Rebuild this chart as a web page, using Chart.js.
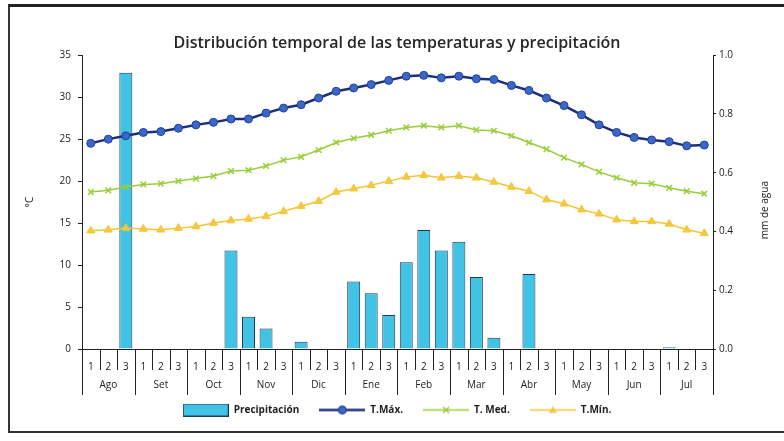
<!DOCTYPE html>
<html lang="es">
<head>
<meta charset="utf-8">
<title>Distribución temporal de las temperaturas y precipitación</title>
<script src="https://cdn.jsdelivr.net/npm/chart.js@4.4.1/dist/chart.umd.min.js"></script>
<style>
  html, body { margin: 0; padding: 0; background: #fff; }
  #wrap { position: relative; width: 784px; height: 441px; overflow: hidden; }
  #frame { position: absolute; left: 8px; top: 4px; width: 800px; height: 424px;
           border-top: 3px solid #222; border-left: 2px solid #333; border-bottom: 2px solid #333; }
  canvas { position: absolute; left: 0; top: 0; }
</style>
</head>
<body>
<div id="wrap">
  <div id="frame"></div>
  <canvas id="chart" width="784" height="441"></canvas>
</div>
<script>
"use strict";

// datos (decadas 1-2-3 de cada mes, Ago -> Jul)
const TITLE = "Distribución temporal de las temperaturas y precipitación";
const MONTHS = ["Ago", "Set", "Oct", "Nov", "Dic", "Ene", "Feb", "Mar", "Abr", "May", "Jun", "Jul"];
const DECADES = ["1", "2", "3"];

const PRECIP = [
  0, 0, 0.94,   0, 0, 0,   0, 0, 0.335,   0.11, 0.07, 0,
  0.025, 0, 0,  0.23, 0.19, 0.116,   0.295, 0.405, 0.335,   0.365, 0.245, 0.038,
  0, 0.255, 0,  0, 0, 0,   0, 0, 0,   0.006, 0, 0,
];
const T_MAX = [
  24.5, 25.0, 25.4, 25.8, 25.9, 26.3, 26.7, 27.0, 27.4, 27.4, 28.1, 28.7,
  29.1, 29.9, 30.7, 31.1, 31.5, 32.0, 32.5, 32.6, 32.3, 32.5, 32.2, 32.1,
  31.4, 30.8, 29.9, 29.0, 27.9, 26.7, 25.8, 25.2, 24.9, 24.7, 24.2, 24.3,
];
const T_MED = [
  18.7, 18.9, 19.3, 19.6, 19.7, 20.0, 20.3, 20.6, 21.2, 21.3, 21.8, 22.5,
  22.9, 23.7, 24.6, 25.1, 25.5, 26.0, 26.4, 26.6, 26.4, 26.6, 26.1, 26.0,
  25.4, 24.6, 23.8, 22.8, 22.0, 21.1, 20.4, 19.8, 19.7, 19.2, 18.8, 18.5,
];
const T_MIN = [
  14.1, 14.2, 14.4, 14.3, 14.2, 14.4, 14.6, 15.0, 15.3, 15.5, 15.8, 16.4,
  17.0, 17.6, 18.7, 19.1, 19.5, 20.0, 20.5, 20.7, 20.4, 20.6, 20.4, 19.9,
  19.3, 18.8, 17.8, 17.3, 16.6, 16.1, 15.4, 15.2, 15.2, 14.9, 14.2, 13.8,
];
const TEMP_TICKS = { min: 0, max: 35, step: 5 };
const RAIN_TICKS = { min: 0, max: 1, step: 0.2 };

const FONT = "Open Sans";
const INK = "#222";
const COLORS = {
  bar: "#41c3e6", barEdge: "#1f3a55",
  max: "#1c2f7c", maxPoint: "#3b67c9",
  med: "#9bcc3a",
  min: "#f3c536", minPoint: "#f5c842",
};

const labels = MONTHS.flatMap(() => DECADES);

// iconos de leyenda: línea + marcador, como en Excel
function legendIcon(kind) {
  const c = document.createElement("canvas");
  c.width = 46; c.height = 13;
  const g = c.getContext("2d");
  const cy = 6.5;
  if (kind === "bar") {
    g.fillStyle = COLORS.bar;
    g.fillRect(0.5, 0.5, 45, 12);
    g.strokeStyle = COLORS.barEdge;
    g.lineWidth = 1;
    g.strokeRect(0.5, 0.5, 45, 12);
    return c;
  }
  const col = kind === "max" ? COLORS.max : kind === "med" ? COLORS.med : COLORS.min;
  g.strokeStyle = col;
  g.lineWidth = kind === "max" ? 2.5 : 1.5;
  g.beginPath(); g.moveTo(0, cy); g.lineTo(46, cy); g.stroke();
  if (kind === "max") {
    g.fillStyle = COLORS.maxPoint;
    g.beginPath(); g.arc(23, cy, 4, 0, Math.PI * 2); g.fill();
    g.lineWidth = 1; g.strokeStyle = COLORS.max; g.stroke();
  } else if (kind === "med") {
    g.lineWidth = 1.5;
    g.beginPath();
    g.moveTo(20, cy - 3); g.lineTo(26, cy + 3);
    g.moveTo(26, cy - 3); g.lineTo(20, cy + 3);
    g.stroke();
  } else {
    g.fillStyle = COLORS.minPoint;
    g.beginPath(); g.moveTo(23, cy - 4); g.lineTo(27, cy + 3); g.lineTo(19, cy + 3); g.closePath(); g.fill();
  }
  return c;
}
const LEGEND_ICONS = [legendIcon("bar"), legendIcon("max"), legendIcon("med"), legendIcon("min")];

// eje de categorías en dos niveles (decada / mes) + título del eje derecho
const multiLevelAxis = {
  id: "multiLevelAxis",
  afterDraw(chart) {
    const xs = chart.scales.x;
    const ctx = chart.ctx;
    const n = chart.data.labels.length;
    const step = xs.getPixelForTick(1) - xs.getPixelForTick(0);
    ctx.save();
    ctx.strokeStyle = INK;
    ctx.lineWidth = 1;
    for (let i = 0; i <= n; i++) {
      const bx = Math.round(xs.getPixelForTick(0) - step / 2 + i * step) + 0.5;
      const len = i % DECADES.length === 0 ? 46 : 21;
      ctx.beginPath();
      ctx.moveTo(bx, xs.top);
      ctx.lineTo(bx, xs.top + len);
      ctx.stroke();
    }
    ctx.fillStyle = INK;
    ctx.font = `10px "${FONT}"`;
    ctx.textAlign = "center";
    ctx.textBaseline = "middle";
    MONTHS.forEach((m, k) => {
      ctx.fillText(m, xs.getPixelForTick(k * DECADES.length + 1), xs.top + 36);
    });

    const y2 = chart.scales.y2;
    ctx.translate(y2.right - 19, (chart.chartArea.top + chart.chartArea.bottom) / 2 + 8);
    ctx.rotate(-Math.PI / 2);
    ctx.fillText("mm de agua", 0, 0);
    ctx.restore();
  },
};

new Chart(document.getElementById("chart"), {
  data: {
    labels,
    datasets: [
      {
        type: "bar", label: "Precipitación", data: PRECIP, yAxisID: "y2", order: 1,
        backgroundColor: COLORS.bar, borderColor: COLORS.barEdge, borderWidth: 1,
        categoryPercentage: 1, barPercentage: 0.74,
      },
      {
        type: "line", label: "T.Máx.", data: T_MAX, yAxisID: "y", order: 0,
        borderColor: COLORS.max, borderWidth: 2.5, tension: 0,
        pointStyle: "circle", pointRadius: 4, pointBackgroundColor: COLORS.maxPoint,
        pointBorderColor: "#21409a", pointBorderWidth: 1,
      },
      {
        type: "line", label: "T. Med.", data: T_MED, yAxisID: "y", order: 0,
        borderColor: COLORS.med, borderWidth: 1.5, tension: 0,
        pointStyle: "crossRot", pointRadius: 4, pointBorderColor: COLORS.med, pointBorderWidth: 1.5,
      },
      {
        type: "line", label: "T.Mín.", data: T_MIN, yAxisID: "y", order: 0,
        borderColor: COLORS.min, borderWidth: 1.5, tension: 0,
        pointStyle: "triangle", pointRadius: 4.5, pointBackgroundColor: COLORS.minPoint,
        pointBorderColor: COLORS.min, pointBorderWidth: 1,
      },
    ],
  },
  options: {
    responsive: false,
    animation: false,
    layout: { padding: { left: 10, right: 0, top: 34, bottom: 16 } },
    plugins: {
      title: {
        display: true, text: TITLE, color: "#262626",
        font: { family: FONT, size: 16, weight: "600" },
        padding: { top: 0, bottom: 2 },
      },
      legend: {
        position: "bottom",
        labels: {
          usePointStyle: true, pointStyleWidth: 46, boxHeight: 12,
          padding: 20, color: INK,
          font: { family: FONT, size: 10, weight: "bold" },
          sort: (a, b) => a.datasetIndex - b.datasetIndex,
          generateLabels(chart) {
            const items = Chart.defaults.plugins.legend.labels.generateLabels(chart);
            items.forEach(it => { it.pointStyle = LEGEND_ICONS[it.datasetIndex]; it.rotation = 0; });
            return items;
          },
        },
      },
      tooltip: { enabled: false },
    },
    scales: {
      x: {
        type: "category", offset: true,
        grid: { display: false },
        border: { display: true, color: INK },
        ticks: { color: INK, font: { family: FONT, size: 10 }, padding: 4, maxRotation: 0, autoSkip: false },
        afterFit(s) { s.height = 36; },
      },
      y: {
        position: "left", min: TEMP_TICKS.min, max: TEMP_TICKS.max,
        ticks: { stepSize: TEMP_TICKS.step, color: INK, font: { family: FONT, size: 10 }, padding: 7 },
        grid: { drawOnChartArea: false, tickLength: 4, color: INK },
        border: { color: INK },
        title: { display: true, text: "°C", color: INK, font: { family: FONT, size: 10 }, padding: { top: 14 } },
        afterFit(s) { s.width = 72; },
      },
      y2: {
        position: "right", min: RAIN_TICKS.min, max: RAIN_TICKS.max,
        ticks: { stepSize: RAIN_TICKS.step, color: INK, font: { family: FONT, size: 10 }, padding: 3,
                 callback: v => Number(v).toFixed(1) },
        grid: { drawOnChartArea: false, tickLength: 3, color: INK },
        border: { color: INK },
        afterFit(s) { s.width = 71; },
      },
    },
  },
  plugins: [multiLevelAxis],
});
</script>
</body>
</html>
